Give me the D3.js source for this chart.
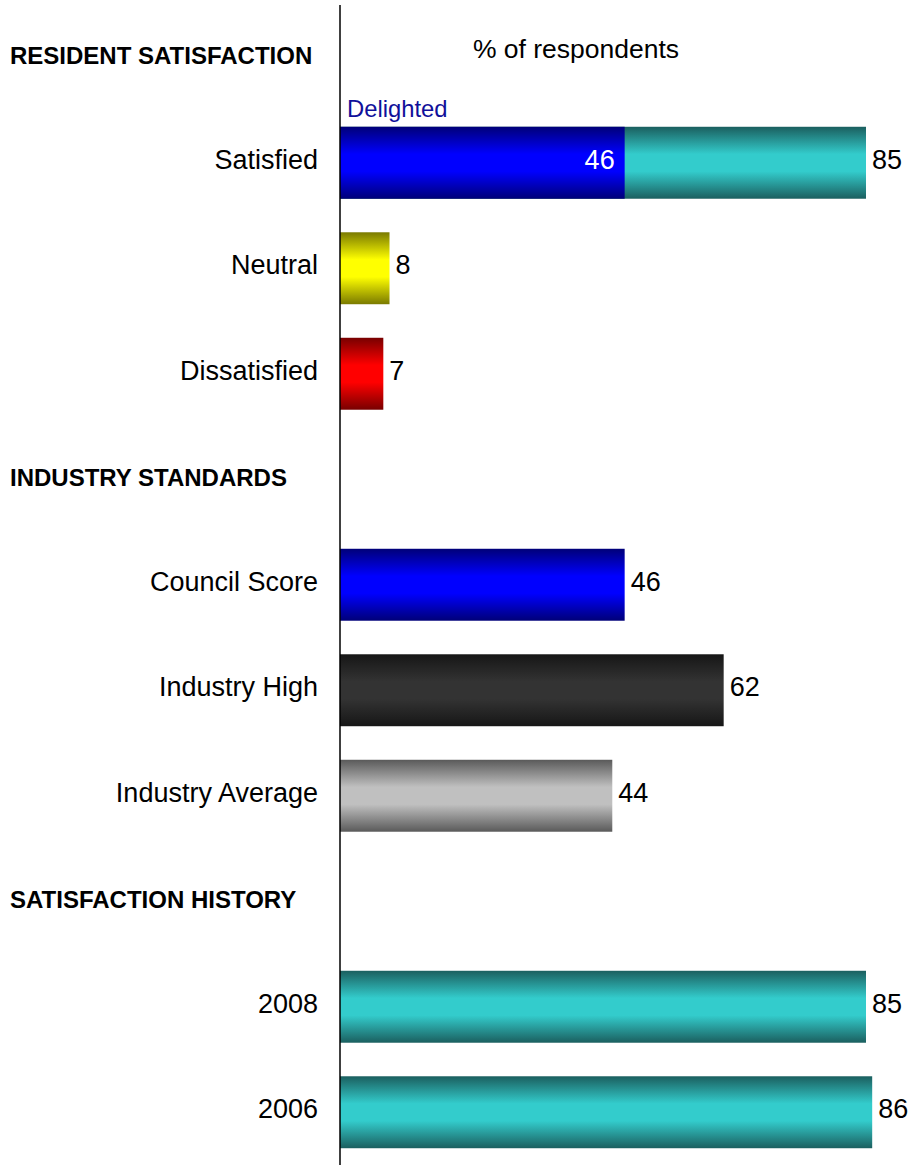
<!DOCTYPE html>
<html>
<head>
<meta charset="utf-8">
<script src="https://cdn.jsdelivr.net/npm/d3@7"></script>
<style>
  html, body { margin: 0; padding: 0; background: #fff; }
  svg { display: block; font-family: "Liberation Sans", Arial, sans-serif; }
</style>
</head>
<body>
<svg id="chart" width="913" height="1167"></svg>
<script>
// Row layout: section headings and bar categories, top to bottom
const rows = [
  "RESIDENT SATISFACTION", "Satisfied", "Neutral", "Dissatisfied",
  "INDUSTRY STANDARDS", "Council Score", "Industry High", "Industry Average",
  "SATISFACTION HISTORY", "2008", "2006"
];
const headings = ["RESIDENT SATISFACTION", "INDUSTRY STANDARDS", "SATISFACTION HISTORY"];

// Bar categories and their values (% of respondents)
const categories = ["Satisfied", "Neutral", "Dissatisfied", "Council Score", "Industry High", "Industry Average", "2008", "2006"];
const values = [85, 8, 7, 46, 62, 44, 85, 86];
const colourKeys = ["cyan", "yellow", "red", "blue", "black", "grey", "cyan", "cyan"];

// "Delighted" share within Satisfied
const delightedCategory = "Satisfied";
const delightedValue = 46;

// Gradient colours: edge shade, centre shade
const palette = {
  blue:   ["#000078", "#0000ff"],
  cyan:   ["#1b5f5f", "#33cccc"],
  yellow: ["#7a7a00", "#ffff00"],
  red:    ["#780000", "#ff0000"],
  black:  ["#161616", "#333333"],
  grey:   ["#5a5a5a", "#c0c0c0"]
};

const svg = d3.select("#chart");
const axisX = 340;
const labelSize = 27;
const labelDy = "0.23em";

const x = d3.scaleLinear().domain([0, 85]).range([axisX, 866]);
const y = d3.scaleBand().domain(rows).range([4.5, 4.5 + 11 * 105.5])
  .paddingInner(0.318).paddingOuter(0.159);

// Vertical gradients, dark at the edges and bright in the middle
const defs = svg.append("defs");
Object.entries(palette).forEach(([key, [edge, mid]]) => {
  const g = defs.append("linearGradient").attr("id", "grad-" + key)
    .attr("x1", 0).attr("y1", 0).attr("x2", 0).attr("y2", 1);
  [[0, edge], [0.38, mid], [0.62, mid], [1, edge]].forEach(([o, c]) =>
    g.append("stop").attr("offset", o).attr("stop-color", c));
});

const bars = categories.map((c, i) => ({ cat: c, value: values[i], colour: colourKeys[i] }));

// Main bars
svg.append("g").selectAll("rect").data(bars).join("rect")
  .attr("x", x(0))
  .attr("y", d => y(d.cat))
  .attr("width", d => x(d.value) - x(0))
  .attr("height", y.bandwidth())
  .attr("fill", d => `url(#grad-${d.colour})`);

// Delighted segment stacked at the start of Satisfied
svg.append("rect")
  .attr("x", x(0))
  .attr("y", y(delightedCategory))
  .attr("width", x(delightedValue) - x(0))
  .attr("height", y.bandwidth())
  .attr("fill", "url(#grad-blue)");

svg.append("text")
  .attr("x", x(delightedValue) - 10)
  .attr("y", y(delightedCategory) + y.bandwidth() / 2)
  .attr("dy", labelDy)
  .attr("text-anchor", "end")
  .attr("font-size", labelSize)
  .attr("fill", "#fff")
  .text(delightedValue);

svg.append("text")
  .attr("x", axisX + 7)
  .attr("y", y(delightedCategory) - 10)
  .attr("font-size", 23.8)
  .attr("fill", "#10109a")
  .text("Delighted");

// Value labels at the end of each bar
svg.append("g").selectAll("text").data(bars).join("text")
  .attr("x", d => x(d.value) + 6)
  .attr("y", d => y(d.cat) + y.bandwidth() / 2)
  .attr("dy", labelDy)
  .attr("font-size", labelSize)
  .attr("fill", "#000")
  .text(d => d.value);

// Category labels
svg.append("g").selectAll("text").data(categories).join("text")
  .attr("x", 318)
  .attr("y", d => y(d) + y.bandwidth() / 2)
  .attr("dy", labelDy)
  .attr("text-anchor", "end")
  .attr("font-size", labelSize)
  .attr("fill", "#000")
  .text(d => d);

// Section headings
svg.append("g").selectAll("text").data(headings).join("text")
  .attr("x", 10)
  .attr("y", d => y(d) + y.bandwidth() / 2)
  .attr("dy", "0.3em")
  .attr("font-size", 24)
  .attr("font-weight", "bold")
  .attr("fill", "#000")
  .text(d => d);

// Axis title
svg.append("text")
  .attr("x", 576)
  .attr("y", 58)
  .attr("text-anchor", "middle")
  .attr("font-size", 26.5)
  .attr("fill", "#000")
  .text("% of respondents");

// Category axis line
svg.append("line")
  .attr("x1", axisX).attr("x2", axisX)
  .attr("y1", 5).attr("y2", 1165)
  .attr("stroke", "#000").attr("stroke-width", 1.5);
</script>
</body>
</html>
